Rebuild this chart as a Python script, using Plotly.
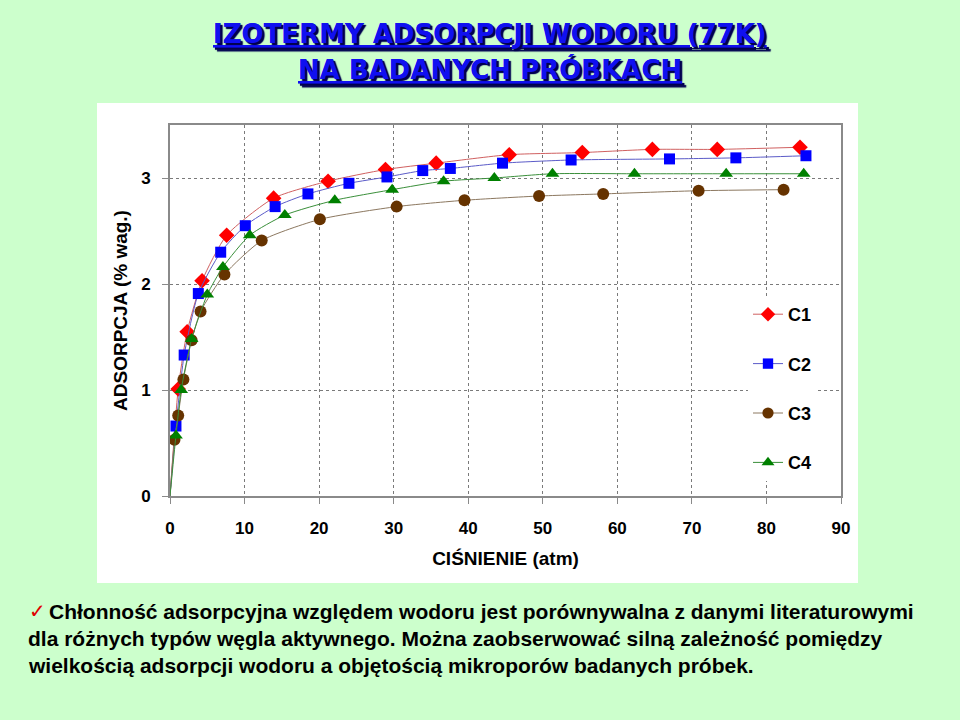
import plotly.graph_objects as go

# ---------------- data ----------------
series_names = ["C1", "C2", "C3", "C4"]

c1_x = [0, 1.1, 2.3, 4.3, 7.6, 13.9, 21.2, 28.9, 35.7, 45.5, 55.3, 64.7, 73.4, 84.5]
c1_y = [0, 1.01, 1.55, 2.03, 2.46, 2.81, 2.97, 3.08, 3.14, 3.22, 3.24, 3.27, 3.27, 3.29]

c2_x = [0, 0.8, 1.9, 3.8, 6.8, 10.1, 14.1, 18.5, 24.0, 29.1, 33.9, 37.6, 44.6, 53.8, 67.0, 75.9, 85.3]
c2_y = [0, 0.66, 1.33, 1.91, 2.30, 2.55, 2.73, 2.85, 2.95, 3.01, 3.07, 3.09, 3.14, 3.17, 3.18, 3.19, 3.21]

c3_x = [0, 0.6, 1.1, 1.8, 2.9, 4.1, 7.3, 12.3, 20.1, 30.4, 39.5, 49.5, 58.1, 70.9, 82.3]
c3_y = [0, 0.53, 0.76, 1.10, 1.47, 1.74, 2.09, 2.41, 2.61, 2.73, 2.79, 2.83, 2.85, 2.88, 2.89]

c4_x = [0, 0.8, 1.5, 2.9, 5.0, 7.1, 10.7, 15.4, 22.1, 29.8, 36.7, 43.5, 51.3, 62.3, 74.6, 85.0]
c4_y = [0, 0.57, 1.00, 1.48, 1.90, 2.16, 2.46, 2.65, 2.79, 2.89, 2.97, 3.00, 3.04, 3.04, 3.04, 3.04]

x_ticks = [0, 10, 20, 30, 40, 50, 60, 70, 80, 90]
y_ticks = [0, 1, 2, 3]

title_lines = ["IZOTERMY ADSORPCJI WODORU (77K)", "NA BADANYCH PRÓBKACH"]
x_title = "CIŚNIENIE (atm)"
y_title = "ADSORPCJA (% wag.)"
body_lines = [
    "Chłonność adsorpcyjna względem wodoru jest porównywalna z danymi literaturowymi",
    "dla różnych typów węgla aktywnego. Można zaobserwować silną zależność pomiędzy",
    "wielkością adsorpcji wodoru a objętością mikroporów badanych próbek.",
]

# ---------------- figure ----------------
W, H = 960, 720
ML, MR, MT, MB = 170, 119, 125, 224
PW, PH = W - ML - MR, H - MT - MB


def px(xp):
    return (xp - ML) / PW


def py(yp):
    return (H - MB - yp) / PH


styles = [
    dict(symbol="diamond", color="#FF0000", line="#D06060", size=12),
    dict(symbol="square", color="#0000FF", line="#5B5BC8", size=11),
    dict(symbol="circle", color="#663300", line="#8C7860", size=12),
    dict(symbol="triangle-up", color="#008000", line="#3A8F3A", size=12),
]
data = [(c1_x, c1_y), (c2_x, c2_y), (c3_x, c3_y), (c4_x, c4_y)]

fig = go.Figure()
for i, (name, (xs, ys), st) in enumerate(zip(series_names, data, styles)):
    sizes = [0 if (xv == 0 and yv == 0) else st["size"] for xv, yv in zip(xs, ys)]
    fig.add_trace(go.Scatter(
        x=xs, y=ys, name=name, mode="lines+markers",
        line=dict(color=st["line"], width=1, shape="spline", smoothing=0.6),
        marker=dict(symbol=st["symbol"], color=st["color"], size=sizes, opacity=1,
                    line=dict(width=0)),
        legendgroup=name,
    ))

base = "Arial, Liberation Sans, sans-serif"

fig.update_xaxes(
    range=[0, 90], tickvals=x_ticks, ticktext=[str(t) for t in x_ticks],
    showgrid=True, gridcolor="#7a7a7a", griddash="dot", gridwidth=1,
    showline=True, linecolor="#8a8a8a", linewidth=2, mirror=True,
    ticks="outside", ticklen=6, tickcolor="#8a8a8a", tickwidth=1,
    tickfont=dict(family=base, size=17, color="#000", weight="bold"), ticklabelstandoff=10,
    title=dict(text="<b>" + x_title + "</b>", font=dict(family=base, size=19, color="#000"), standoff=14),
    zeroline=False,
)
fig.update_yaxes(
    range=[0, 3.5], tickvals=y_ticks, ticktext=[str(t) for t in y_ticks],
    showgrid=True, gridcolor="#7a7a7a", griddash="dot", gridwidth=1,
    showline=True, linecolor="#8a8a8a", linewidth=2, mirror=True,
    ticks="outside", ticklen=6, tickcolor="#8a8a8a", tickwidth=1,
    tickfont=dict(family=base, size=17, color="#000", weight="bold"),
    ticklabelstandoff=8,
    title=dict(text="<b>" + y_title + "</b>", font=dict(family=base, size=19, color="#000"), standoff=8),
    zeroline=False,
)

shapes = [dict(type="rect", xref="paper", yref="paper",
               x0=px(97), x1=px(858), y0=py(583), y1=py(103),
               fillcolor="#FFFFFF", line=dict(width=0), layer="below")]

annotations = []
title_font = dict(family="DejaVu Sans, Arial Black, sans-serif", size=26, color="#1010F0",
                  weight="bold", shadow="2px 2px 1px #000050")
for k, (t, yc) in enumerate(zip(title_lines, [34, 69])):
    annotations.append(dict(text="<u>" + t + "</u>", x=px(490), y=py(yc), xref="paper", yref="paper",
                            showarrow=False, xanchor="center", yanchor="middle", font=title_font))

annotations.append(dict(text="✓", x=px(27), y=py(611), xref="paper", yref="paper", showarrow=False,
                        xanchor="left", yanchor="middle",
                        font=dict(family="DejaVu Sans, sans-serif", size=20, color="#E00000")))
body_font = dict(family=base, size=21, color="#000000", weight="bold")
for k, (t, xl, yc) in enumerate(zip(body_lines, [47, 26, 26], [611, 638, 665])):
    annotations.append(dict(text=t, x=px(xl), y=py(yc), xref="paper", yref="paper", showarrow=False,
                            xanchor="left", yanchor="middle", font=body_font))

fig.update_layout(
    width=W, height=H,
    margin=dict(l=ML, r=MR, t=MT, b=MB, pad=0),
    paper_bgcolor="#CCFFCC", plot_bgcolor="#FFFFFF",
    showlegend=True,
    legend=dict(x=px(748), y=py(296), xanchor="left", yanchor="top",
                bgcolor="#FFFFFF", borderwidth=0, traceorder="grouped", tracegroupgap=23,
                font=dict(family=base, size=18, color="#000", weight="bold"),
                itemwidth=30),
    shapes=shapes, annotations=annotations,
)

fig.write_html("out.html")
